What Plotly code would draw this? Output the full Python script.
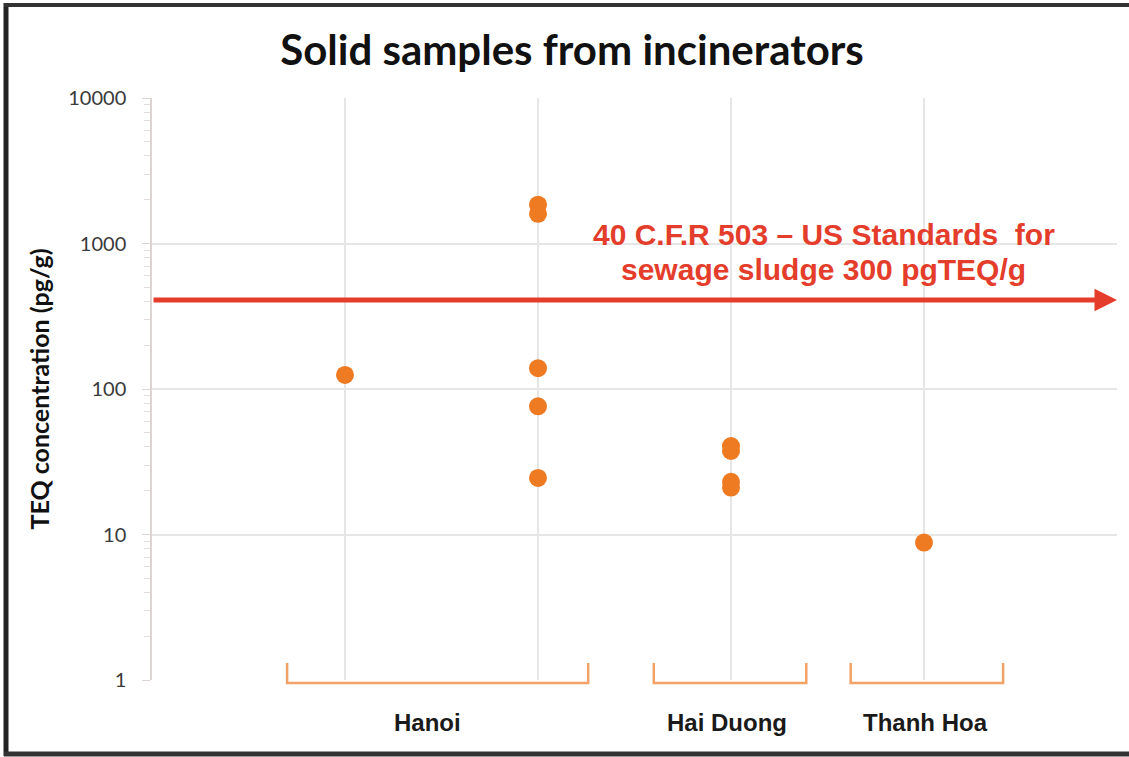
import plotly.graph_objects as go
import math

# ---------------- data ----------------
point_column = [1, 2, 2, 2, 2, 2, 3, 3, 3, 3, 4]
teq_values = [125, 1850, 1600, 139, 76, 24.5, 40.5, 37.5, 23, 21, 8.8]

groups = ["Hanoi", "Hai Duong", "Thanh Hoa"]
group_label_x = [1.43, 2.98, 4.01]
group_span = [(0.70, 2.26), (2.60, 3.39), (3.62, 4.41)]

standard_value = 409
standard_lines = ["40 C.F.R 503 – US Standards  for", "sewage sludge 300 pgTEQ/g"]
standard_line_values = [1150, 665]

y_ticks = [1, 10, 100, 1000, 10000]
y_ticktext = ["1", "10", "100", "1000", "10000"]
y_minor = [m * 10 ** k for k in range(4) for m in range(2, 10)]

# ---------------- layout constants ----------------
W, H = 1129, 757
L, R, T, B = 152, 12, 98, 77
XR = (0, 5)

def pxx(px):
    return (px - L) / (W - L - R)

def pxy(py):
    return (H - B - py) / (H - T - B)

def dx(x):
    return (x - XR[0]) / (XR[1] - XR[0])

ORANGE = "#EE7A22"
RED = "#E43D2B"
BRACKET = "#F2A266"
GRID = "#E6E6E6"

fig = go.Figure()
fig.add_trace(go.Scatter(
    x=point_column, y=teq_values, mode="markers",
    marker=dict(size=18, color=ORANGE, line=dict(width=0)),
    cliponaxis=False, showlegend=False, hoverinfo="x+y"))

# standard arrow
fig.add_annotation(x=XR[1], y=math.log10(standard_value), ax=XR[0], ay=math.log10(standard_value),
                   xref="x", yref="y", axref="x", ayref="y", text="", showarrow=True,
                   arrowhead=2, arrowsize=0.9, arrowwidth=5, arrowcolor=RED, standoff=0, startstandoff=0)
for line, v in zip(standard_lines, standard_line_values):
    fig.add_annotation(x=3.48, y=math.log10(v), xref="x", yref="y", text=line,
                       showarrow=False, align="center",
                       font=dict(family="Liberation Sans", size=30, color=RED, weight="bold"))

# group brackets + labels
shapes = []
for (a, b), name, lx in zip(group_span, groups, group_label_x):
    y_top, y_bot = pxy(663), pxy(683)
    shapes.append(dict(type="path", xref="paper", yref="paper",
                       path=f"M {dx(a)} {y_top} L {dx(a)} {y_bot} L {dx(b)} {y_bot} L {dx(b)} {y_top}",
                       line=dict(color=BRACKET, width=2.5)))
    fig.add_annotation(x=lx, y=pxy(722), xref="x", yref="paper", text=name, showarrow=False,
                       yanchor="middle",
                       font=dict(family="Liberation Sans", size=24, color="#1a1a1a", weight="bold"))

# outer dark frame
shapes.append(dict(type="line", xref="paper", yref="paper", x0=pxx(6), x1=pxx(6), y0=pxy(3), y1=pxy(756),
                   line=dict(color="#222222", width=5)))
shapes.append(dict(type="line", xref="paper", yref="paper", x0=pxx(4), x1=pxx(1129), y0=pxy(5), y1=pxy(5),
                   line=dict(color="#333333", width=4)))
shapes.append(dict(type="line", xref="paper", yref="paper", x0=pxx(4), x1=pxx(1129), y0=pxy(754), y1=pxy(754),
                   line=dict(color="#333333", width=5)))

fig.update_layout(
    width=W, height=H, margin=dict(l=L, r=R, t=T, b=B),
    paper_bgcolor="white", plot_bgcolor="white",
    shapes=shapes,
    title=dict(text="<b>Solid samples from incinerators</b>", x=572 / W, xanchor="center",
               y=1 - 50 / H, yanchor="middle", yref="container",
               font=dict(family="Lato", size=42, color="#111111")),
    xaxis=dict(range=list(XR), tickmode="array", tickvals=[1, 2, 3, 4, 5], showticklabels=False,
               showgrid=True, gridcolor=GRID, gridwidth=1.5, zeroline=False, showline=False, ticks=""),
    yaxis=dict(type="log", range=[0, 4], tickvals=y_ticks, ticktext=y_ticktext,
               showgrid=True, gridcolor=GRID, gridwidth=1.5, zeroline=False,
               showline=True, linecolor="#DCD3D3", linewidth=1.5,
               ticks="outside", ticklen=8, tickcolor="#DCD3D3", ticklabelstandoff=12,
               minor=dict(tickmode="array", tickvals=y_minor, ticks="outside", ticklen=6,
                          tickcolor="#E3DCDC", showgrid=False),
               tickfont=dict(family="Lato", size=20, color="#3a3a3a"),
               title=dict(text="<b>TEQ concentration (pg/g)</b>", standoff=12,
                          font=dict(family="Lato", size=25, color="#111111"))),
)

fig.write_html("out.html", config={"displayModeBar": False},
               post_script="document.body.style.margin='0';")
